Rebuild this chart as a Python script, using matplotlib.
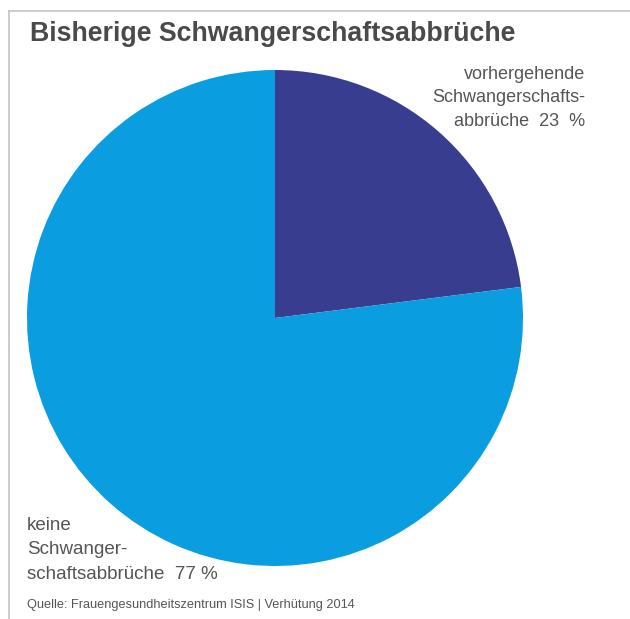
import matplotlib.pyplot as plt
from matplotlib.lines import Line2D

plt.rcParams['font.family'] = ['Liberation Sans', 'DejaVu Sans']

title = "Bisherige Schwangerschaftsabbrüche"
labels = ["vorhergehende\nSchwangerschafts-\nabbrüche  23  %",
          "keine\nSchwanger-\nschaftsabbrüche  77 %"]
shares = [23, 77]
colors = ["#393d8f", "#0a9ee1"]
source = "Quelle: Frauengesundheitszentrum ISIS | Verhütung 2014"

W, H = 630, 619
fig = plt.figure(figsize=(W / 100, H / 100), dpi=100)

# thin frame along top and left edge
fig.add_artist(Line2D([9 / W, 1], [1 - 11 / H, 1 - 11 / H], color="#c4c4c4", lw=1.2))
fig.add_artist(Line2D([9 / W, 9 / W], [0, 1 - 11 / H], color="#c4c4c4", lw=1.2))

ax = fig.add_axes([27 / W, (H - 566) / H, 496 / W, 496 / H])
ax.pie(shares, colors=colors, startangle=90, counterclock=False,
       radius=1, wedgeprops=dict(linewidth=0))
ax.set_xlim(-1, 1)
ax.set_ylim(-1, 1)
ax.set_aspect("equal")
ax.axis("off")

fig.text(30 / W, 1 - 34 / H, title, fontsize=19.3, fontweight="bold",
         color="#4a4a4a", va="center", ha="left")

fig.text(585 / W, 1 - 98 / H, labels[0], fontsize=13, color="#555555",
         ha="right", va="center", linespacing=1.5, multialignment="right")
fig.text(27 / W, 1 - 550 / H, labels[1], fontsize=13.5, color="#555555",
         ha="left", va="center", linespacing=1.6)

fig.text(27 / W, 1 - 605 / H, source, fontsize=9.2, color="#555555",
         ha="left", va="center")

fig.savefig("out.png", dpi=100)
